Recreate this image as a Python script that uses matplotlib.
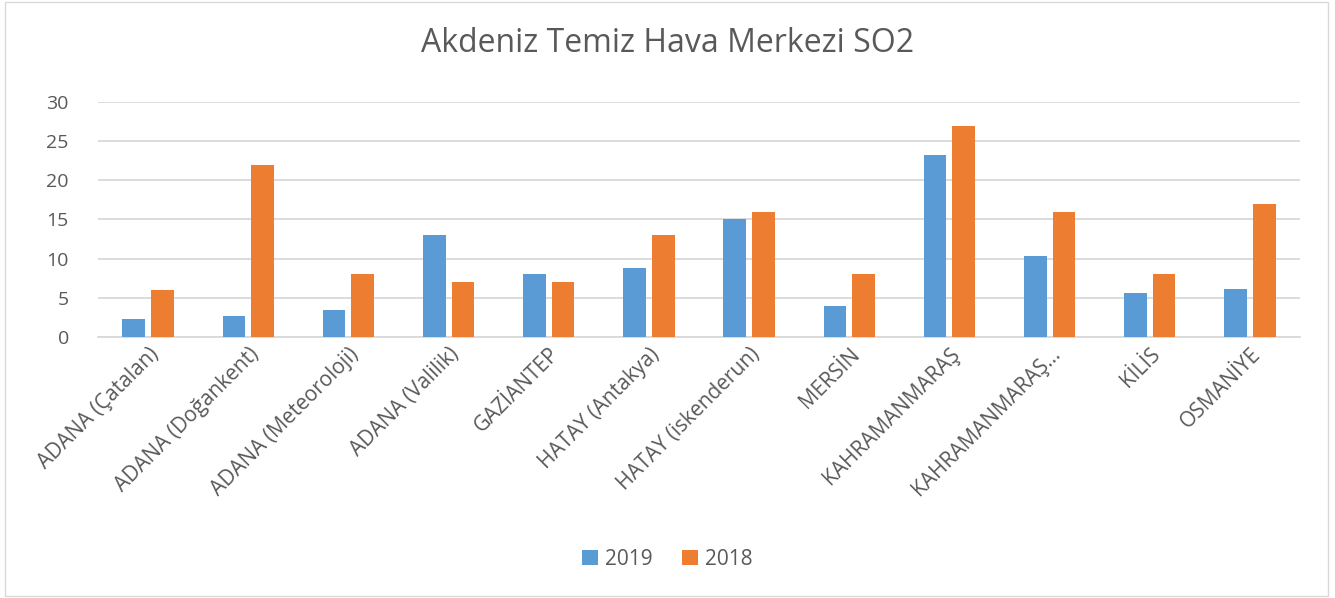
import numpy as np
import matplotlib
matplotlib.use('Agg')
import matplotlib.pyplot as plt
from matplotlib.patches import Rectangle

plt.rcParams['font.family'] = ['Open Sans', 'DejaVu Sans']

# istasyonlar ve yillara gore SO2 degerleri
stations = ['ADANA (Çatalan)', 'ADANA (Doğankent)', 'ADANA (Meteoroloji)', 'ADANA (Valilik)',
            'GAZİANTEP', 'HATAY (Antakya)', 'HATAY (iskenderun)', 'MERSİN',
            'KAHRAMANMARAŞ', 'KAHRAMANMARAŞ…', 'KİLİS', 'OSMANİYE']
so2_2019 = [2.3, 2.7, 3.4, 13, 8, 8.8, 15, 4, 23.2, 10.4, 5.6, 6.1]
so2_2018 = [6, 22, 8, 7, 7, 13, 16, 8, 27, 16, 8, 17]

text_color = '#595959'
grid_color = '#D9D9D9'

fig = plt.figure(figsize=(13.35, 5.98), dpi=100)
ax = fig.add_axes([0.0734, 0.4365, 0.9004, 0.3929])

x = np.arange(len(stations))
w = 0.225
ax.bar(x - 0.143, so2_2019, width=w, color='#5B9BD5', label='2019', zorder=3)
ax.bar(x + 0.143, so2_2018, width=w, color='#ED7D31', label='2018', zorder=3)

ax.set_xlim(-0.5, len(stations) - 0.5)
ax.set_ylim(0, 30)
ax.set_yticks(range(0, 31, 5))
ax.yaxis.grid(True, color=grid_color, linewidth=1.3, zorder=0)
for s in ['top', 'right', 'left']:
    ax.spines[s].set_visible(False)
ax.spines['bottom'].set_color(grid_color)
ax.spines['bottom'].set_linewidth(1.3)
ax.tick_params(axis='both', length=0, colors=text_color)
ax.tick_params(axis='y', pad=21, labelsize=14)
ax.tick_params(axis='x', pad=5, labelsize=15)
ax.set_xticks(x)
ax.set_xticklabels(stations, rotation=45, ha='right', rotation_mode='anchor')

fig.suptitle('Akdeniz Temiz Hava Merkezi SO2', x=0.5, y=0.955, fontsize=23, color=text_color)

leg = fig.legend(loc='center', bbox_to_anchor=(0.5, 0.065), ncol=2, frameon=False,
                 fontsize=15, handlelength=0.75, handleheight=0.75, handletextpad=0.35,
                 columnspacing=1.4)
for t in leg.get_texts():
    t.set_color(text_color)

# grafik cercevesi
fig.patches.append(Rectangle((0.004, 0.004), 0.991, 0.993, transform=fig.transFigure,
                             fill=False, edgecolor='#D9D9D9', linewidth=1))

plt.savefig('out.png', dpi=100)
